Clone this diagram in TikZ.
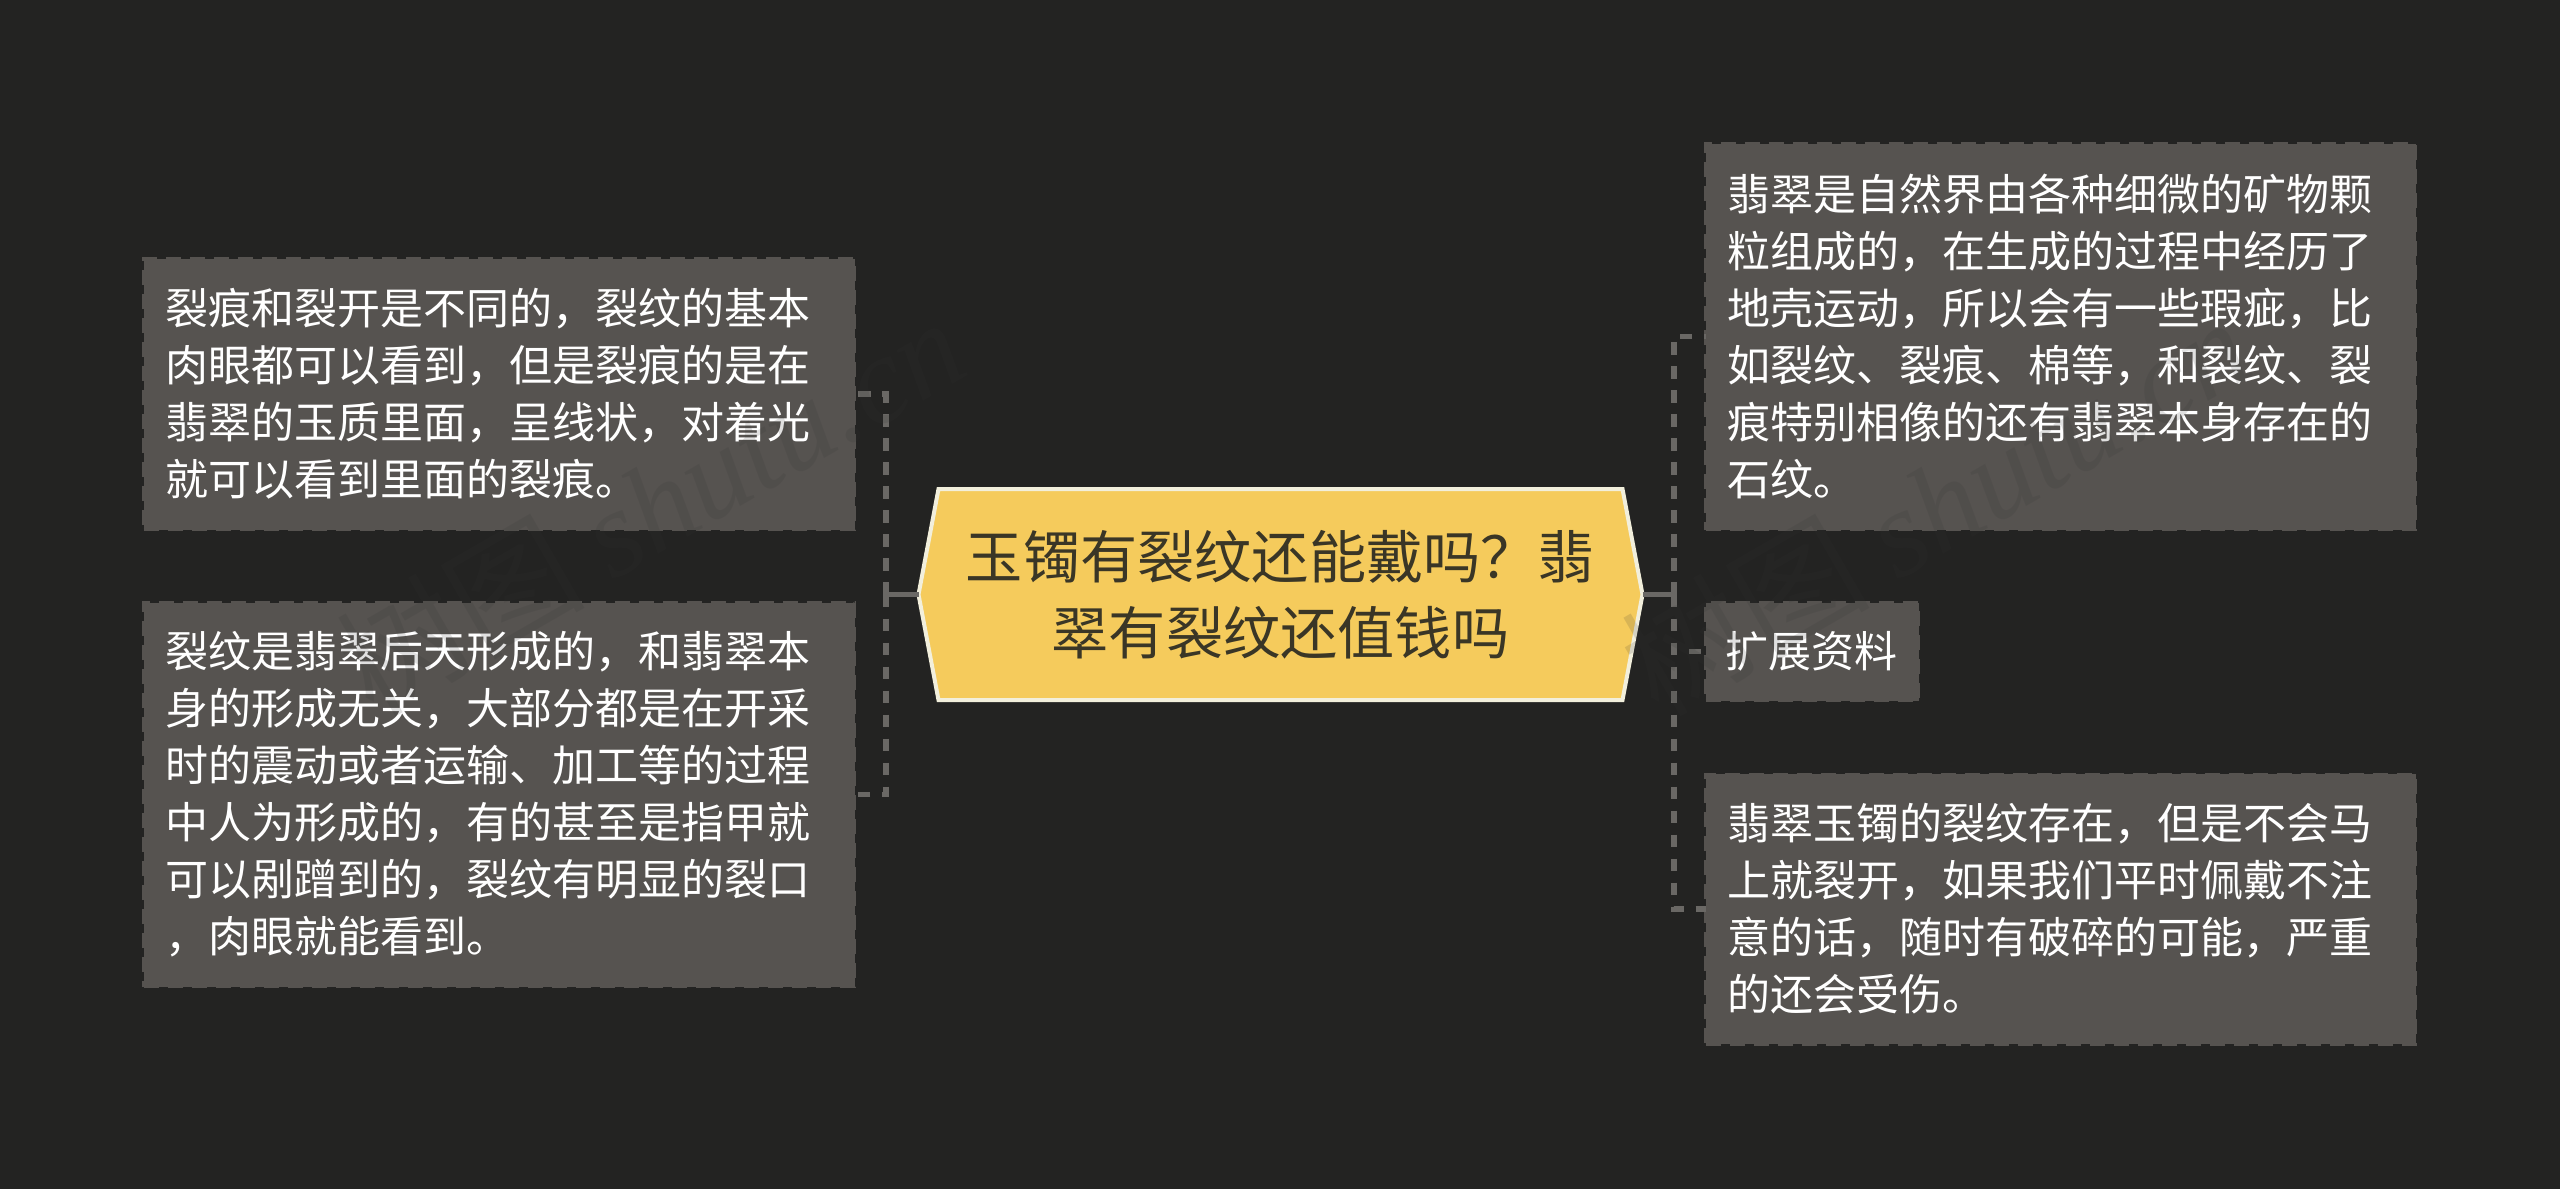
\documentclass[tikz,border=0pt]{standalone}
\usepackage{fontspec}
\setmainfont{Noto Sans CJK SC}
\newfontfamily\wmlatin{Liberation Serif}[ItalicFont={Liberation Serif Italic}]
\usetikzlibrary{backgrounds,calc}
\definecolor{pagebg}{HTML}{232322}
\definecolor{boxgray}{HTML}{565350}
\definecolor{linkgray}{HTML}{6A6865}
\definecolor{rootfill}{HTML}{F5CB5C}
\definecolor{rootedge}{HTML}{F2EFDC}
\definecolor{roottext}{HTML}{3A3626}
\definecolor{wmgray}{HTML}{333333}
\tikzset{
  x=0.5pt,y=-0.5pt,
  infobox/.style 2 args={draw=boxgray,fill=boxgray,line width=1.5pt,dash pattern=on 7.5pt off 4.5pt,
    outer sep=0pt,inner xsep=0pt,inner ysep=0pt,anchor=center,
    minimum width=#1*0.5pt-1.5pt,minimum height=#2*0.5pt-1.5pt},
  infotext/.style={text=white,align=left,font=\fontsize{21.5pt}{28.5pt}\selectfont},
  roottitle/.style={outer sep=0pt,inner sep=0pt,minimum width=362pt,minimum height=105.5pt,align=center,
    text=roottext,font=\fontsize{28.6pt}{38pt}\selectfont},
  rootshape/.style={fill=rootfill,draw=rootedge,line width=2pt,line join=miter},
  solidlink/.style={draw=linkgray,line width=2.7pt},
  dashlink/.style={draw=linkgray,line width=2.7pt,dash pattern=on 6.15pt off 5.85pt},
  watermark/.style={text=wmgray,opacity=0.15,text opacity=0.15,rotate=30,anchor=center,font=\fontsize{62pt}{62pt}\selectfont}
}
\begin{document}
\begin{tikzpicture}
\useasboundingbox (0,0) rectangle (2560,1189);
\begin{pgfonlayer}{background}
  \fill[pagebg] (0,0) rectangle (2560,1189);
\end{pgfonlayer}
% boxes
\node[infobox={714}{274},infotext,text width=334pt] (L1) at (499,394)
  {裂痕和裂开是不同的，裂纹的基本\\肉眼都可以看到，但是裂痕的是在\\翡翠的玉质里面，呈线状，对着光\\就可以看到里面的裂痕。};
\node[infobox={714}{387},infotext,text width=334pt] (L2) at (499,794.5)
  {裂纹是翡翠后天形成的，和翡翠本\\身的形成无关，大部分都是在开采\\时的震动或者运输、加工等的过程\\中人为形成的，有的甚至是指甲就\\可以剐蹭到的，裂纹有明显的裂口\\，肉眼就能看到。};
\node[infobox={713}{389},infotext,text width=333pt] (R1) at (2060.5,336.5)
  {翡翠是自然界由各种细微的矿物颗\\粒组成的，在生成的过程中经历了\\地壳运动，所以会有一些瑕疵，比\\如裂纹、裂痕、棉等，和裂纹、裂\\痕特别相像的还有翡翠本身存在的\\石纹。};
\node[infobox={216}{101},infotext,text width=86.2pt] (R2) at (1812,651.5) {扩展资料};
\node[infobox={713}{273},infotext,text width=333pt] (R3) at (2060.5,909)
  {翡翠玉镯的裂纹存在，但是不会马\\上就裂开，如果我们平时佩戴不注\\意的话，随时有破碎的可能，严重\\的还会受伤。};
% root
\node[roottitle] (root) at (1280.5,594.5) {玉镯有裂纹还能戴吗？翡\\翠有裂纹还值钱吗};
\begin{pgfonlayer}{background}
  \path[rootshape] (root.west) -- ($(root.north west)+(20,0)$) -- ($(root.north east)+(-20,0)$)
    -- (root.east) -- ($(root.south east)+(-20,0)$) -- ($(root.south west)+(20,0)$) -- cycle;
\end{pgfonlayer}
% connectors
\coordinate (jl) at (886,594.5);
\coordinate (jr) at (1674,594.5);
\draw[solidlink] (root.west) -- (jl);
\draw[solidlink] (root.east) -- (jr);
\draw[dashlink] (jl) |- (L1.east);
\draw[dashlink] (jl) |- (L2.east);
\draw[dashlink] (jr) |- (R1.west);
\draw[dashlink] (jr) |- (R2.west);
\draw[dashlink] (jr) |- (R3.west);
% watermark
\node[watermark] (wmA) at (650,505) {树图 {\wmlatin\itshape shutu.cn}};
\node[watermark] (wmB) at (1935,505) {树图 {\wmlatin\itshape shutu.cn}};
\end{tikzpicture}
\end{document}
